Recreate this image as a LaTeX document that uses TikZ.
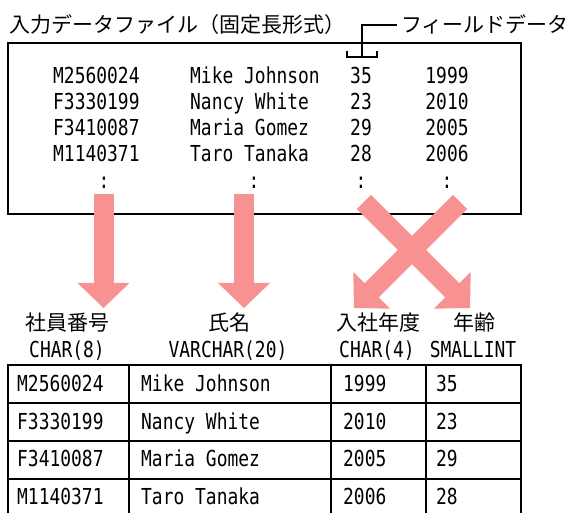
\documentclass[tikz,border=0pt]{standalone}
\usepackage{fontspec}
\newfontfamily\jafont{Noto Sans CJK JP}
\newfontfamily\datafont[FakeStretch=0.815]{DejaVu Sans Mono}
\usetikzlibrary{calc}
\definecolor{arrowpink}{RGB}{248,145,145}

% block arrow: shaft plus triangular head, from #1 to #2
\newcommand\blockarrow[2]{%
  \coordinate (#1h) at ($(#2)!25pt!(#1)$);
  \draw[arrowpink,line width=20pt] (#1) -- ($(#2)!23pt!(#1)$);
  \fill[arrowpink] (#2) -- ($(#1h)!26pt!90:(#2)$) -- ($(#1h)!26pt!-90:(#2)$) -- cycle;}

\begin{document}
\begin{tikzpicture}[x=1pt,y=-1pt,
  jatext/.style={inner sep=0pt,font=\jafont\fontsize{21pt}{25pt}\selectfont},
  data/.style={inner sep=0pt,font=\datafont\fontsize{22pt}{26pt}\selectfont},
  boxline/.style={line width=1.4pt},
  tableline/.style={line width=1.8pt}]
  \useasboundingbox (0,0) rectangle (574,513);

  % input file
  \node[jatext,anchor=base west] (title) at (9,33) {入力データファイル（固定長形式）};
  \node[jatext,anchor=base west] (field) at (401,33) {フィールドデータ};
  \draw[boxline] (8,43) rectangle (521,214);
  \foreach \id/\nm/\age/\yr [count=\i] in {M2560024/Mike Johnson/35/1999,F3330199/Nancy White/23/2010,F3410087/Maria Gomez/29/2005,M1140371/Taro Tanaka/28/2006} {
    \pgfmathsetmacro\by{84+25.7*(\i-1)}
    \node[data,anchor=base west] (bid\i) at (53,\by) {\id};
    \node[data,anchor=base west] (bnm\i) at (190,\by) {\nm};
    \node[data,anchor=base] (bage\i) at (361,\by) {\age};
    \node[data,anchor=base] (byr\i) at (447,\by) {\yr};
  }
  \foreach \x [count=\i] in {104,254,361,447} \node[data,anchor=base] (dot\i) at (\x,189) {:};

  % field bracket
  \coordinate (fieldend) at (397,25);
  \coordinate (brk) at (362,57);
  \coordinate (brkl) at (347,57);
  \coordinate (brkr) at (377,57);
  \draw[line width=1.2pt] (fieldend) -| (brk);
  \draw[line width=1.2pt] ([yshift=6pt]brkl) -- (brkl) -- (brkr) -- ([yshift=6pt]brkr);

  % arrows
  \coordinate (a1s) at (103.5,194);
  \coordinate (a1e) at (103.5,308);
  \coordinate (a2s) at (244,194);
  \coordinate (a2e) at (244,308);
  \coordinate (c1s) at (364,202);
  \coordinate (c1e) at (470,308);
  \coordinate (c2s) at (460,202);
  \coordinate (c2e) at (354,308);
  \blockarrow{a1s}{a1e}
  \blockarrow{a2s}{a2e}
  \blockarrow{c1s}{c1e}
  \blockarrow{c2s}{c2e}

  % column headers
  \foreach \x/\ja/\ty [count=\i] in {68/社員番号/CHAR(8),229/氏名/VARCHAR(20),378/入社年度/CHAR(4),474/年齢/SMALLINT} {
    \node[jatext,anchor=base] (hja\i) at (\x,331) {\ja};
    \node[data,anchor=base] (hty\i) at (\x-1,358) {\ty};
  }

  % table
  \draw[tableline] (8,365) rectangle (521,517);
  \foreach \y in {403,441,479} \draw[tableline] (8,\y) -- (521,\y);
  \foreach \x in {129,331,426} \draw[tableline] (\x,365) -- (\x,517);
  \foreach \id/\nm/\yr/\age [count=\i] in {M2560024/Mike Johnson/1999/35,F3330199/Nancy White/2010/23,F3410087/Maria Gomez/2005/29,M1140371/Taro Tanaka/2006/28} {
    \pgfmathsetmacro\ty{392+37.5*(\i-1)}
    \node[data,anchor=base west] (tid\i) at (17,\ty) {\id};
    \node[data,anchor=base west] (tnm\i) at (141,\ty) {\nm};
    \node[data,anchor=base west] (tyr\i) at (343,\ty) {\yr};
    \node[data,anchor=base west] (tage\i) at (436,\ty) {\age};
  }
\end{tikzpicture}
\end{document}
